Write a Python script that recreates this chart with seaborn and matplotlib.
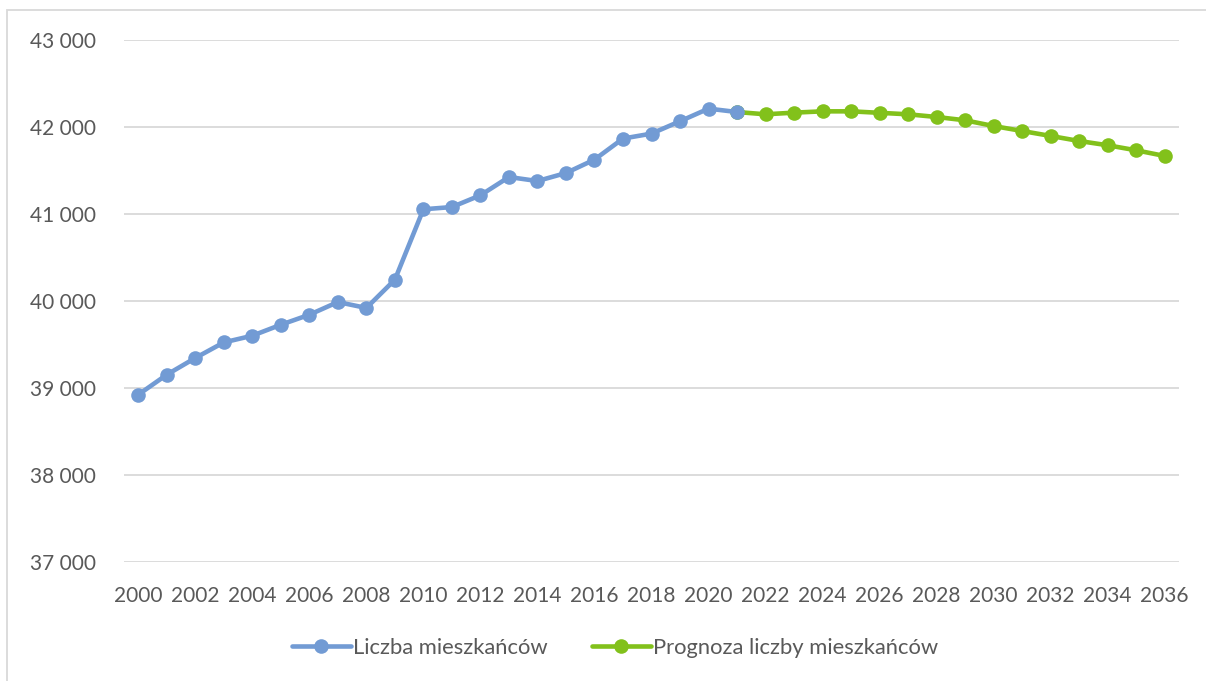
import matplotlib
matplotlib.use("Agg")
import matplotlib.pyplot as plt
import seaborn as sns
import pandas as pd
from matplotlib.ticker import FuncFormatter, MultipleLocator
from matplotlib.patches import Rectangle

years_hist = list(range(2000, 2022))
pop_hist = [38923, 39153, 39345, 39524, 39601, 39727, 39842, 39988, 39920, 40245,
            41054, 41080, 41215, 41425, 41379, 41471, 41625, 41867, 41924, 42066,
            42211, 42172]
years_fc = list(range(2021, 2037))
pop_fc = [42172, 42146, 42165, 42180, 42180, 42163, 42146, 42115, 42077, 42011,
          41954, 41897, 41839, 41790, 41732, 41667]
label_hist = "Liczba mieszkańców"
label_fc = "Prognoza liczby mieszkańców"
xticks = list(range(2000, 2037, 2))

df_hist = pd.DataFrame({"year": years_hist, "pop": pop_hist})
df_fc = pd.DataFrame({"year": years_fc, "pop": pop_fc})

sns.set_theme(style="white")
plt.rcParams['font.family'] = ['Lato', 'DejaVu Sans']

fig = plt.figure(figsize=(12.06, 6.81), dpi=100)
ax = fig.add_axes([124/1206, 1 - 562/681, (1179-124)/1206, (562-40)/681])

blue = "#729BD4"
green = "#82C11B"
sns.lineplot(data=df_fc, x="year", y="pop", ax=ax, color=green, linewidth=3.3,
             marker="o", markersize=10.5, markeredgewidth=0, label=label_fc, zorder=2)
sns.lineplot(data=df_hist, x="year", y="pop", ax=ax, color=blue, linewidth=3.3,
             marker="o", markersize=10.5, markeredgewidth=0, label=label_hist, zorder=3)

ax.set_xlim(1999.5, 2036.5)
ax.set_ylim(37000, 43000)
ax.yaxis.set_major_locator(MultipleLocator(1000))
ax.yaxis.set_major_formatter(FuncFormatter(lambda v, p: f"{int(v):,}".replace(",", " ")))
ax.set_xticks(xticks)
ax.set_xticklabels([str(x) for x in xticks])
ax.grid(axis="y", color="#D9D9D9", linewidth=1.3)
ax.grid(axis="x", visible=False)
for s in ax.spines.values():
    s.set_visible(False)
ax.tick_params(axis="both", length=0, labelsize=15, colors="#595959")
ax.tick_params(axis="y", pad=20)
ax.tick_params(axis="x", pad=17)
ax.set_xlabel("")
ax.set_ylabel("")

handles, labels = ax.get_legend_handles_labels()
order = [labels.index(label_hist), labels.index(label_fc)]
leg = ax.legend([handles[i] for i in order], [labels[i] for i in order],
                loc="center", bbox_to_anchor=(615/1206, 1 - 648/681),
                bbox_transform=fig.transFigure, ncol=2, frameon=False,
                fontsize=15.8, handlelength=2.7, handletextpad=0.1, columnspacing=2.0)
for t in leg.get_texts():
    t.set_color("#595959")

fig.patches.append(Rectangle((7/1206, -0.01), 1.2, 1 - 10/681 + 0.01, transform=fig.transFigure,
                             fill=False, edgecolor="#D9D9D9", linewidth=1.3))

fig.savefig("out.png", dpi=100)
